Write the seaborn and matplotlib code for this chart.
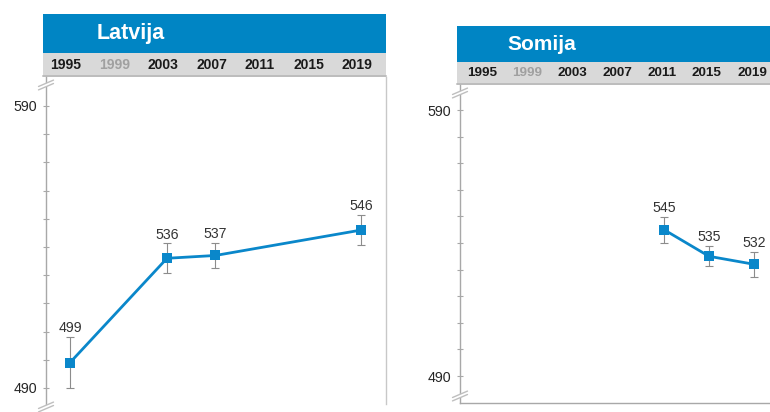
import matplotlib
matplotlib.use("Agg")
import matplotlib.pyplot as plt
import seaborn as sns
import pandas as pd
from matplotlib.patches import Rectangle, Polygon
from matplotlib.lines import Line2D
from matplotlib.ticker import FixedLocator
import matplotlib.transforms as mtransforms

# ---------------- data ----------------
cycle_years = [1995, 1999, 2003, 2007, 2011, 2015, 2019]
missing_cycle = 1999  # shown in grey

country_names = ["Latvija", "Somija"]

latvia_years = [1995, 2003, 2007, 2019]
latvia_scores = [499, 536, 537, 546]
latvia_err = [9.0, 5.3, 4.5, 5.3]

finland_years = [2011, 2015, 2019]
finland_scores = [545, 535, 532]
finland_err = [4.9, 3.8, 4.7]

y_labelled_ticks = [490, 590]
y_minor_ticks = list(range(500, 590, 10))

# ---------------- style ----------------
sns.set_theme(style="white")
plt.rcParams["font.family"] = ["Liberation Sans", "DejaVu Sans"]

BLUE_HEAD = "#0085C4"
BLUE_LINE = "#0A87CA"
STRIP = "#D9D9D9"
STRIP_EDGE = "#BDBDBD"
AXIS_GREY = "#A8A8A8"
ERR_GREY = "#8C8C8C"
LABEL_GREY = "#333333"

W, H, DPI = 770, 412, 100
fig = plt.figure(figsize=(W / DPI, H / DPI), dpi=DPI)
fig.patch.set_facecolor("white")


def px_axes(x0, y0, x1, y1):
    return fig.add_axes([x0 / W, 1 - y1 / H, (x1 - x0) / W, (y1 - y0) / H])


def fx(x):
    return x / W


def fy(y):
    return 1 - y / H


def draw_break(cx, cy):
    # white gap + two parallel slanted strokes over the y axis
    dx, dy, gap = 7.5, 3.2, 1.7
    poly = Polygon([(fx(cx - dx), fy(cy + dy - gap)), (fx(cx + dx), fy(cy - dy - gap)),
                    (fx(cx + dx), fy(cy - dy + gap)), (fx(cx - dx), fy(cy + dy + gap))],
                   closed=True, transform=fig.transFigure, facecolor="white",
                   edgecolor="none", zorder=20)
    fig.add_artist(poly)
    for s in (-gap, gap):
        fig.add_artist(Line2D([fx(cx - dx), fx(cx + dx)], [fy(cy + dy + s), fy(cy - dy + s)],
                              transform=fig.transFigure, color="#BFBFBF", lw=1.0, zorder=21))


panels = [
    dict(name=country_names[0], years=latvia_years, scores=latvia_scores, err=latvia_err,
         head=(43, 14, 386, 77), strip_top=53, plot=(46, 77, 386, 404),
         ppy=12.125, xa=70, ppu=2.82, ya=388, title_x=97, label_dx=-4,
         yfs=10.0, tfs=15.5, breaks=[(46, 85), (46, 407)], right_spine=True, bottom_spine=False),
    dict(name=country_names[1], years=finland_years, scores=finland_scores, err=finland_err,
         head=(457, 26, 795, 85), strip_top=62, plot=(460, 85, 795, 403),
         ppy=11.25, xa=484, ppu=2.66, ya=376, title_x=507, label_dx=-2,
         yfs=9.7, tfs=15.0, breaks=[(460, 93), (460, 396)], right_spine=False, bottom_spine=True),
]

for p in panels:
    def xl(a, b, p=p):
        return (1995 + (a - p["xa"]) / p["ppy"], 1995 + (b - p["xa"]) / p["ppy"])

    # ---- header (blue title bar + grey year strip) ----
    hx0, hy0, hx1, hy1 = p["head"]
    axh = px_axes(hx0, hy0, hx1, hy1)
    axh.set_xlim(*xl(hx0, hx1))
    axh.set_ylim(hy1, hy0)
    axh.axis("off")
    x_lo, x_hi = axh.get_xlim()
    axh.add_patch(Rectangle((x_lo, hy0), x_hi - x_lo, p["strip_top"] - hy0,
                            facecolor=BLUE_HEAD, edgecolor="none"))
    axh.add_patch(Rectangle((x_lo, p["strip_top"]), x_hi - x_lo, hy1 - p["strip_top"],
                            facecolor=STRIP, edgecolor="none"))
    axh.plot([x_lo, x_hi], [hy1 - 0.6, hy1 - 0.6], color=STRIP_EDGE, lw=1.4, clip_on=False)
    fig.text(fx(p["title_x"]), fy((hy0 + p["strip_top"]) / 2), p["name"], color="white",
             fontsize=p["tfs"], fontweight="bold", ha="left", va="center")
    off = mtransforms.offset_copy(axh.transData, fig=fig, x=p["label_dx"], y=0, units="dots")
    for yr in cycle_years:
        axh.text(yr, (p["strip_top"] + hy1) / 2, str(yr), transform=off,
                 ha="center", va="center", fontsize=p["yfs"], fontweight="bold",
                 color="#A0A0A0" if yr == missing_cycle else "#1A1A1A")

    # ---- plot area ----
    px0, py0, px1, py1 = p["plot"]
    ax = px_axes(px0, py0, px1, py1)
    ax.set_xlim(*xl(px0, px1))
    ax.set_ylim(490 - (py1 - p["ya"]) / p["ppu"], 490 + (p["ya"] - py0) / p["ppu"])
    ax.set_facecolor("white")

    df = pd.DataFrame({"year": p["years"], "score": p["scores"], "err": p["err"]})
    ax.errorbar(df["year"], df["score"], yerr=df["err"], fmt="none", ecolor=ERR_GREY,
                elinewidth=0.8, capsize=2.6, capthick=0.8, zorder=2)
    sns.lineplot(data=df, x="year", y="score", ax=ax, color=BLUE_LINE, linewidth=2.0,
                 marker="s", markersize=6.8, markeredgewidth=0, zorder=3)
    for yr, v, e in zip(df["year"], df["score"], df["err"]):
        ax.annotate(f"{v}", (yr, v + e), xytext=(0, 6.3), textcoords="offset points",
                    ha="center", va="center", fontsize=10.2, color=LABEL_GREY)

    ax.set_yticks(y_labelled_ticks)
    ax.set_yticklabels([str(t) for t in y_labelled_ticks])
    ax.yaxis.set_minor_locator(FixedLocator(y_minor_ticks))
    ax.tick_params(axis="y", which="both", direction="inout", length=4.6, width=0.8,
                   color=AXIS_GREY, labelsize=10.3, labelcolor="#262626", pad=4.0, left=True)
    ax.set_xticks([])
    ax.set_xlabel("")
    ax.set_ylabel("")
    for side, sp in ax.spines.items():
        sp.set_color(AXIS_GREY)
        sp.set_linewidth(1.0)
    ax.spines["top"].set_visible(False)
    ax.spines["right"].set_visible(p["right_spine"])
    ax.spines["right"].set_color("#C8C8C8")
    ax.spines["bottom"].set_visible(p["bottom_spine"])
    if ax.get_legend() is not None:
        ax.get_legend().remove()

    for cx, cy in p["breaks"]:
        draw_break(cx, cy)

fig.savefig("out.png", dpi=DPI, facecolor="white")
